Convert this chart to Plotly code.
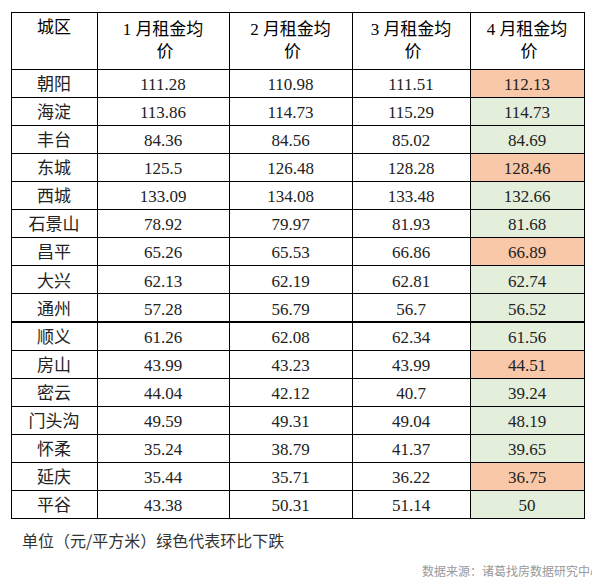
import plotly.graph_objects as go

districts = ["朝阳", "海淀", "丰台", "东城", "西城", "石景山", "昌平", "大兴",
             "通州", "顺义", "房山", "密云", "门头沟", "怀柔", "延庆", "平谷"]
jan = ["111.28", "113.86", "84.36", "125.5", "133.09", "78.92", "65.26", "62.13",
       "57.28", "61.26", "43.99", "44.04", "49.59", "35.24", "35.44", "43.38"]
feb = ["110.98", "114.73", "84.56", "126.48", "134.08", "79.97", "65.53", "62.19",
       "56.79", "62.08", "43.23", "42.12", "49.31", "38.79", "35.71", "50.31"]
mar = ["111.51", "115.29", "85.02", "128.28", "133.48", "81.93", "66.86", "62.81",
       "56.7", "62.34", "43.99", "40.7", "49.04", "41.37", "36.22", "51.14"]
apr = ["112.13", "114.73", "84.69", "128.46", "132.66", "81.68", "66.89", "62.74",
       "56.52", "61.56", "44.51", "39.24", "48.19", "39.65", "36.75", "50"]
# second header line padded so it sits centred under the first
pad = "\u3000\u3000"
headers = ["城区", "1 月租金均<br>" + pad + "价", "2 月租金均<br>" + pad + "价",
           "3 月租金均<br>" + pad + "价", "4 月租金均<br>" + pad + "价"]

ORANGE = "#f8c8a8"
GREEN = "#e3efda"
# green = down vs previous month, orange = up
apr_colors = [GREEN if float(a) < float(m) else ORANGE for a, m in zip(apr, mar)]
white = ["white"] * len(districts)

font = "Liberation Serif, Noto Sans CJK SC"

fig = go.Figure(go.Table(
    domain=dict(x=[3 / 600, 576 / 600], y=[0, 1 - 4 / 579]),
    columnwidth=[86, 132, 123, 118, 114],
    header=dict(values=headers, height=57, align="center",
                fill_color="white",
                line=dict(color="black", width=1),
                font=dict(family=font, size=17, color="black")),
    cells=dict(values=[districts, jan, feb, mar, apr], height=28.1, align="center",
               fill_color=[white, white, white, white, apr_colors],
               line=dict(color="black", width=1),
               font=dict(family=font, size=17, color="#222")),
))

fig.add_annotation(x=12 / 600, y=1 - 532 / 579, xref="paper", yref="paper",
                   xanchor="left", yanchor="middle", showarrow=False,
                   text="单位（元/平方米）绿色代表环比下跌",
                   font=dict(family="Noto Sans CJK SC", size=16, color="#333"))
fig.add_annotation(x=596 / 600, y=1 - 562 / 579, xref="paper", yref="paper",
                   xanchor="right", yanchor="middle", showarrow=False,
                   text="数据来源：诸葛找房数据研究中心",
                   font=dict(family="Noto Sans CJK SC", size=12, color="#999"))

fig.update_layout(width=600, height=579, margin=dict(l=0, r=0, t=0, b=0),
                  paper_bgcolor="white", plot_bgcolor="white")
fig.write_html("out.html")
